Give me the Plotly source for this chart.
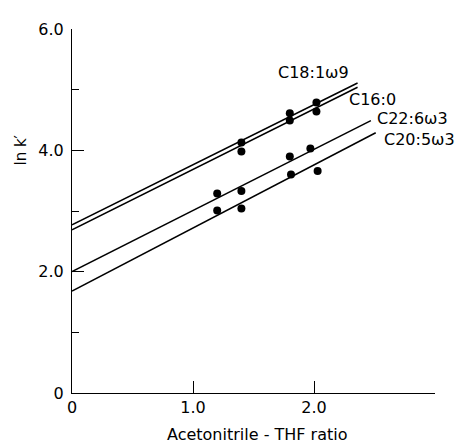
import plotly.graph_objects as go

# Regression lines: (x_start, y_start, x_end, y_end)
series_names = ["C18:1ω9", "C16:0", "C22:6ω3", "C20:5ω3"]
line_x = [[0, 2.36], [0, 2.36], [0, 2.47], [0, 2.51]]
line_y = [[2.77, 5.11], [2.69, 5.04], [2.00, 4.49], [1.68, 4.29]]

# Measured points
pts_x = [[1.40, 1.80, 2.02], [1.40, 1.80, 2.02], [1.20, 1.40, 1.80, 1.97], [1.20, 1.40, 1.81, 2.03]]
pts_y = [[4.13, 4.61, 4.79], [3.98, 4.49, 4.64], [3.29, 3.33, 3.90, 4.03], [3.01, 3.04, 3.60, 3.66]]

# Label positions
label_x = [1.69, 2.27, 2.50, 2.56]
label_y = [5.28, 4.84, 4.52, 4.18]

x_tickvals = [0, 1, 2]
x_ticktext = ["0", "1.0", "2.0"]
y_tickvals = [0, 2, 4, 6]
y_ticktext = ["0", "2.0", "4.0", "6.0"]

FONT = "DejaVu Sans"

fig = go.Figure()
for i in range(len(series_names)):
    fig.add_trace(go.Scatter(x=line_x[i], y=line_y[i], mode="lines",
                             line=dict(color="black", width=1.5), showlegend=False,
                             hoverinfo="skip"))
    fig.add_trace(go.Scatter(x=pts_x[i], y=pts_y[i], mode="markers",
                             marker=dict(color="black", size=8), showlegend=False,
                             name=series_names[i]))

for i, name in enumerate(series_names):
    fig.add_annotation(x=label_x[i], y=label_y[i], xref="x", yref="y", text=name,
                       showarrow=False, xanchor="left", yanchor="middle",
                       font=dict(family=FONT, size=16, color="black"))

fig.add_annotation(x=-0.14, y=4.0, xref="paper", yref="y", text="ln k′",
                   showarrow=False, textangle=-90, xanchor="center", yanchor="middle",
                   font=dict(family=FONT, size=15, color="black"))
fig.add_annotation(x=1.53, y=-0.115, xref="x", yref="paper", text="Acetonitrile - THF ratio",
                   showarrow=False, xanchor="center", yanchor="middle",
                   font=dict(family=FONT, size=16, color="black"))

fig.update_layout(
    width=464, height=447,
    margin=dict(l=64, r=37, t=12, b=62),
    paper_bgcolor="white", plot_bgcolor="white",
    font=dict(family=FONT, size=16, color="black"),
    xaxis=dict(range=[0, 3.0], showgrid=False, zeroline=False, showline=True,
               linecolor="black", linewidth=1.2, ticks="inside", ticklen=12,
               tickcolor="black", tickwidth=1.2, tickvals=x_tickvals, ticktext=x_ticktext,
               tickfont=dict(family=FONT, size=16), fixedrange=True),
    yaxis=dict(range=[0, 6], showgrid=False, zeroline=False, showline=True,
               linecolor="black", linewidth=1.2, ticks="inside", ticklen=12,
               tickcolor="black", tickwidth=1.2, tickvals=y_tickvals, ticktext=y_ticktext,
               tickfont=dict(family=FONT, size=16), ticklabelstandoff=4,
               minor=dict(dtick=1, ticks="inside", ticklen=7, tickcolor="black", tickwidth=1.2),
               fixedrange=True),
)

fig.write_html("out.html")
